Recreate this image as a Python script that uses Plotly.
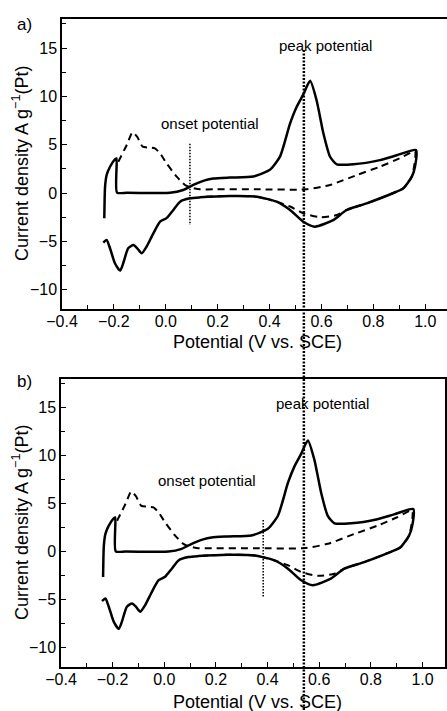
import plotly.graph_objects as go

# ---- data (both panels show the same CV curves) ----
solid_x = [-0.237, -0.234, -0.228, -0.215, -0.196, -0.190, -0.188, -0.150, -0.050, 0.016,
           0.067, 0.106, 0.150, 0.183, 0.247, 0.337, 0.401, 0.440, 0.479, 0.504,
           0.530, 0.556, 0.581, 0.607, 0.633, 0.659, 0.723, 0.825, 0.890, 0.964,
           0.960, 0.948, 0.915, 0.877, 0.774, 0.697, 0.645, 0.575, 0.530, 0.479,
           0.427, 0.350, 0.247, 0.132, 0.093, 0.055, 0.029, 0.003, -0.022, -0.048,
           -0.074, -0.093, -0.110, -0.125, -0.145, -0.164, -0.176, -0.196, -0.215, -0.228,
           -0.241]
solid_y = [-2.62, 0.66, 1.86, 2.72, 3.48, 3.58, 0.05, 0.03, 0.00, 0.02,
           0.31, 0.83, 1.30, 1.50, 1.60, 1.70, 2.40, 3.76, 7.20, 8.90,
           10.2, 11.6, 9.60, 6.20, 3.75, 2.97, 2.97, 3.40, 3.90, 4.45,
           2.70, 1.70, 0.48, 0.00, -1.07, -1.76, -2.80, -3.48, -2.97, -1.76,
           -0.90, -0.38, -0.31, -0.45, -0.55, -0.90, -1.76, -2.60, -2.96, -4.17,
           -5.55, -6.24, -5.72, -5.38, -5.72, -7.27, -8.03, -7.27, -5.72, -4.86,
           -5.14]

dash_x = [-0.183, -0.150, -0.128, -0.110, -0.089, -0.060, -0.042, -0.022, 0.003, 0.042,
          0.074, 0.093, 0.132, 0.183, 0.350, 0.540, 0.633, 0.736, 0.825, 0.902,
          0.960, 0.948, 0.915, 0.877, 0.774, 0.697, 0.659, 0.594, 0.530, 0.479,
          0.427, 0.350, 0.247, 0.150]
dash_y = [3.24, 5.00, 6.28, 5.80, 4.79, 4.70, 4.62, 4.10, 3.07, 1.69,
          0.83, 0.60, 0.38, 0.38, 0.38, 0.38, 0.83, 1.86, 2.72, 3.60,
          4.30, 1.70, 0.48, 0.00, -1.07, -1.76, -2.28, -2.50, -2.10, -1.40,
          -0.90, -0.38, -0.31, -0.40]

onset_potential = [0.093, 0.383]          # V vs. SCE, panels a) and b)
onset_span = [[5.1, -3.3], [3.3, -4.7]]   # current density extent of marker
peak_potential = 0.532

x_ticks = [-0.4, -0.2, 0.0, 0.2, 0.4, 0.6, 0.8, 1.0]
y_ticks = [-10, -5, 0, 5, 10, 15]
panel_labels = ["a)", "b)"]

W, H = 447, 711
FONT = "Liberation Sans, Arial, sans-serif"

fig = go.Figure()

for i, (xa, ya) in enumerate([("x", "y"), ("x2", "y2")]):
    fig.add_trace(go.Scatter(x=dash_x, y=dash_y, xaxis=xa, yaxis=ya, mode="lines",
                             line=dict(color="black", width=2, dash="7px,5px", shape="spline", smoothing=0.6),
                             showlegend=False, hoverinfo="skip"))
    fig.add_trace(go.Scatter(x=solid_x, y=solid_y, xaxis=xa, yaxis=ya, mode="lines",
                             line=dict(color="black", width=2.5, shape="spline", smoothing=0.6),
                             showlegend=False, hoverinfo="skip"))

def px2fx(p):
    return p / W

def py2fy(p):
    return 1 - p / H

axis_common = dict(showgrid=False, zeroline=False, showline=True, linecolor="black", linewidth=1.5,
                   ticks="inside", ticklen=5, tickwidth=1.2, tickcolor="black", automargin=False,
                   tickfont=dict(family=FONT, size=16, color="black"))

fig.update_layout(
    width=W, height=H, margin=dict(l=0, r=0, t=0, b=0),
    paper_bgcolor="white", plot_bgcolor="white", showlegend=False,
    xaxis=dict(domain=[px2fx(62), 1.0], range=[-0.4, 1.0836], anchor="y", mirror=True,
               tickvals=x_ticks, tickformat=".1f", ticklabelstandoff=-3,
               minor=dict(ticks="inside", dtick=0.1, ticklen=4, tickcolor="black"), **axis_common),
    yaxis=dict(domain=[py2fy(309), py2fy(19)], range=[-12, 18], anchor="x",
               tickvals=y_ticks,
               minor=dict(ticks="inside", dtick=2.5, ticklen=4, tickcolor="black"), **axis_common),
    xaxis2=dict(domain=[px2fx(61), px2fx(445)], range=[-0.4, 1.087], anchor="y2", mirror=True,
                tickvals=x_ticks, tickformat=".1f", ticklabelstandoff=-3,
                minor=dict(ticks="inside", dtick=0.1, ticklen=4, tickcolor="black"), **axis_common),
    yaxis2=dict(domain=[py2fy(667), py2fy(379)], range=[-12, 18], anchor="x2", mirror=True,
                tickvals=y_ticks,
                minor=dict(ticks="inside", dtick=2.5, ticklen=4, tickcolor="black"), **axis_common),
)

# peak potential marker spanning both panels
fig.add_shape(type="line", xref="x", yref="paper", x0=peak_potential, x1=peak_potential,
              y0=py2fy(50), y1=0, line=dict(color="black", width=2.5, dash="2px,1.5px"))
# onset markers
for i, (xa, ya) in enumerate([("x", "y"), ("x2", "y2")]):
    fig.add_shape(type="line", xref=xa, yref=ya, x0=onset_potential[i], x1=onset_potential[i],
                  y0=onset_span[i][0], y1=onset_span[i][1],
                  line=dict(color="black", width=1.5, dash="1.5px,1.5px"))

ann = []
txt_font = dict(family=FONT, size=15, color="black")
ann.append(dict(xref="x", yref="y", x=0.617, y=15.3, text="peak potential", showarrow=False, font=txt_font))
ann.append(dict(xref="x", yref="y", x=0.170, y=7.24, text="onset potential", showarrow=False, font=txt_font))
ann.append(dict(xref="x2", yref="y2", x=0.612, y=15.5, text="peak potential", showarrow=False, font=txt_font))
ann.append(dict(xref="x2", yref="y2", x=0.166, y=7.4, text="onset potential", showarrow=False, font=txt_font))

title_font = dict(family=FONT, size=18, color="black")
lab_font = dict(family=FONT, size=17, color="black")
for lab, cy_plot, cy_x, cy_lab in [(panel_labels[0], 164, 342, 25), (panel_labels[1], 523, 702, 381)]:
    ann.append(dict(xref="paper", yref="paper", x=px2fx(24), y=py2fy(cy_lab), text=lab,
                    showarrow=False, font=lab_font, xanchor="center", yanchor="middle"))
    ann.append(dict(xref="paper", yref="paper", x=px2fx(20), y=py2fy(cy_plot),
                    text="Current density A g<sup>−1</sup>(Pt)", textangle=-90,
                    showarrow=False, font=title_font, xanchor="center", yanchor="middle"))
    ann.append(dict(xref="paper", yref="paper", x=px2fx(257), y=py2fy(cy_x),
                    text="Potential (V vs. SCE)", showarrow=False, font=title_font,
                    xanchor="center", yanchor="middle"))

fig.update_layout(annotations=ann)
fig.write_html("out.html")
